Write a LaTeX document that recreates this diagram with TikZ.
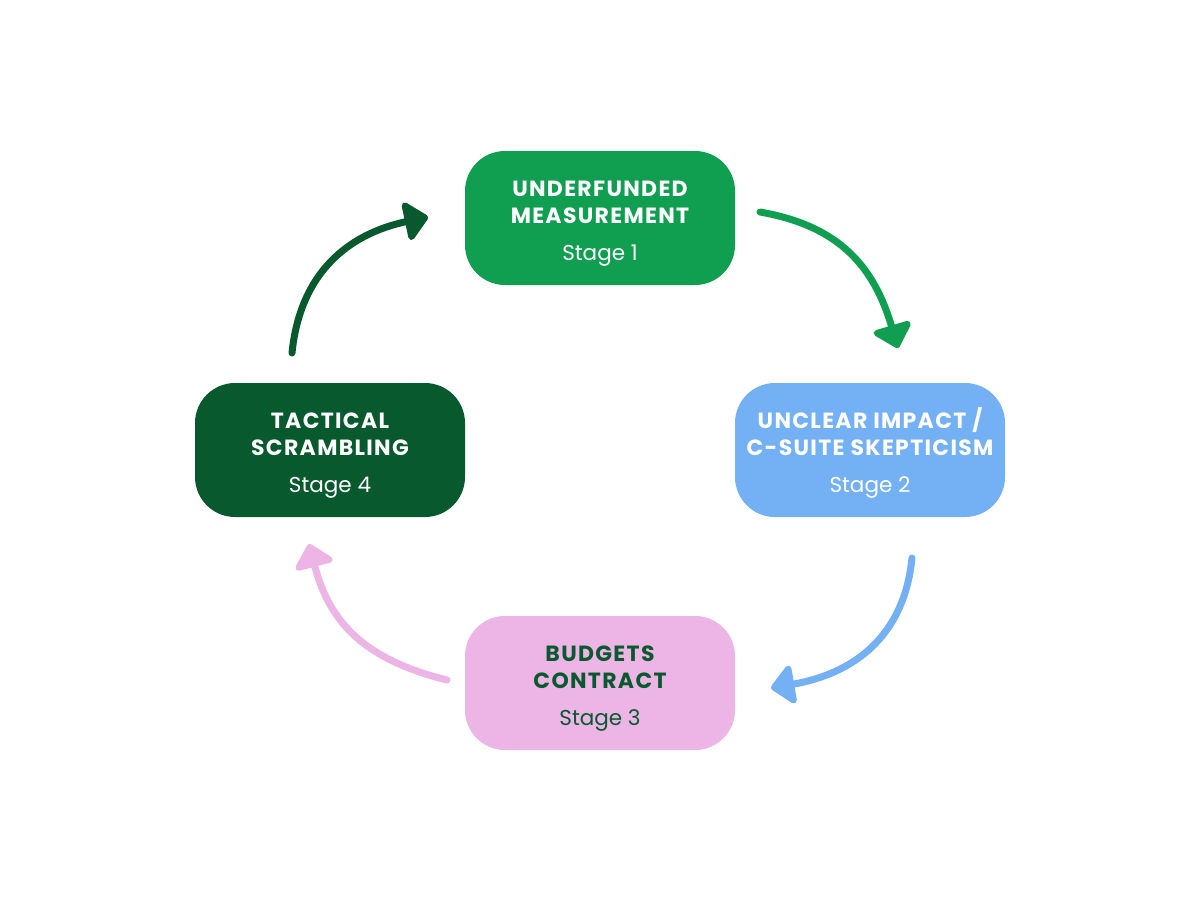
\documentclass[tikz,border=0pt]{standalone}
\usepackage{fontspec}
\setmainfont{Poppins}
\newfontfamily\ttlfont[LetterSpace=6]{Poppins Bold}
\usetikzlibrary{arrows.meta}
\definecolor{cgreen}{RGB}{16,159,80}
\definecolor{cblue}{RGB}{116,176,244}
\definecolor{cpink}{RGB}{237,180,230}
\definecolor{cdark}{RGB}{8,89,46}
\newcommand{\ttl}{\ttlfont\fontsize{22}{27}\selectfont}
\newcommand{\stg}{\normalfont\fontsize{21.5}{27}\selectfont}
\tikzset{
  box/.style={rounded corners=40pt, minimum width=270pt, minimum height=134pt,
    inner sep=0pt, align=center, fill=#1, font=\fontsize{21}{27}\selectfont,
    text height=84pt, text depth=0pt},
  arr/.style={draw=#1, line width=7pt, line cap=round,
    -{Triangle[length=25pt,width=45pt,round]}},
}
\begin{document}
\begin{tikzpicture}[x=1pt,y=-1pt]
\useasboundingbox (0,0) rectangle (1200,900);
\fill[white] (0,0) rectangle (1200,900);
\node[box=cgreen, text=white] (n1) at (600,218) {\ttl UNDERFUNDED\\\ttl MEASUREMENT\\[10pt]\stg Stage 1};
\node[box=cblue, text=white] (n2) at (870,450) {\ttl UNCLEAR IMPACT /\\\ttl C-SUITE SKEPTICISM\\[10pt]\stg Stage 2};
\node[box=cpink, text=cdark] (n3) at (600,683) {\ttl BUDGETS\\\ttl CONTRACT\\[10pt]\stg Stage 3};
\node[box=cdark, text=white] (n4) at (330,450) {\ttl TACTICAL\\\ttl SCRAMBLING\\[10pt]\stg Stage 4};
\coordinate (a1s) at (760,212); \coordinate (a1e) at (898,348);
\coordinate (a2s) at (912,558); \coordinate (a2e) at (771,688);
\coordinate (a3s) at (447,680); \coordinate (a3e) at (309,544);
\coordinate (a4s) at (292,353); \coordinate (a4e) at (428,217);
\draw[arr=cgreen] (a1s) .. controls (840,226) and (874,267) .. (a1e);
\draw[arr=cblue] (a2s) .. controls (904,638) and (852,674) .. (a2e);
\draw[arr=cpink] (a3s) .. controls (367,660) and (330,625) .. (a3e);
\draw[arr=cdark] (a4s) .. controls (300,273) and (348,234) .. (a4e);
\end{tikzpicture}
\end{document}
